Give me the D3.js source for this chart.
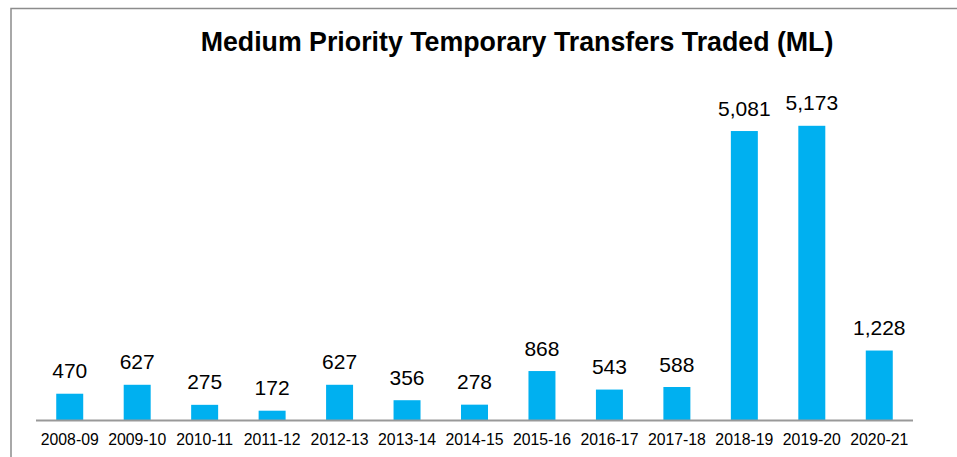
<!DOCTYPE html>
<html><head><meta charset="utf-8">
<script src="https://cdn.jsdelivr.net/npm/d3@7"></script>
<style>html,body{margin:0;padding:0;background:#fff;}svg{display:block;font-family:"Liberation Sans",Arial,sans-serif;}</style>
</head><body>
<svg id="c" width="957" height="457"></svg>
<script>
const categories = ["2008-09","2009-10","2010-11","2011-12","2012-13","2013-14","2014-15","2015-16","2016-17","2017-18","2018-19","2019-20","2020-21"];
const values = [470,627,275,172,627,356,278,868,543,588,5081,5173,1228];
const title = "Medium Priority Temporary Transfers Traded (ML)";

const svg = d3.select("#c");
// frame
svg.append("path").attr("d","M11,457V8.5H957").attr("fill","none").attr("stroke","#8c8c8c").attr("stroke-width",1.5);

const x = d3.scaleBand().domain(categories).range([36,913]).paddingInner(0.6).paddingOuter(0.3);
const y = d3.scaleLinear().domain([0,6000]).range([420.5, 420.5-6000*0.05697]);

const t = svg.append("text").attr("x",517).attr("y",51).attr("text-anchor","middle")
  .attr("font-size",24).attr("font-weight","bold").attr("fill","#000").text(title);
const tw = t.node().getComputedTextLength();
t.attr("font-size", 24*633/tw);

svg.selectAll("rect.bar").data(values).join("rect").attr("class","bar")
  .attr("x",(d,i)=>x(categories[i])).attr("width",x.bandwidth())
  .attr("y",d=>y(d)).attr("height",d=>y(0)-y(d)).attr("fill","#00B0F0");

svg.selectAll("text.val").data(values).join("text").attr("class","val")
  .attr("x",(d,i)=>x(categories[i])+x.bandwidth()/2).attr("y",d=>y(d)-15.5)
  .attr("text-anchor","middle").attr("font-size",21).attr("fill","#000")
  .text(d=>d3.format(",")(d));

const ax = svg.append("g").attr("transform",`translate(0,${y(0)})`)
  .call(d3.axisBottom(x).tickSize(0).tickPadding(13.5));
ax.select(".domain").attr("stroke","#999").attr("stroke-width",2).attr("d","M36,0H913");
ax.selectAll(".tick text").attr("font-size",15.8).attr("fill","#000").attr("font-family","'Liberation Sans',Arial,sans-serif").attr("dy","0.71em");
</script>
</body></html>
